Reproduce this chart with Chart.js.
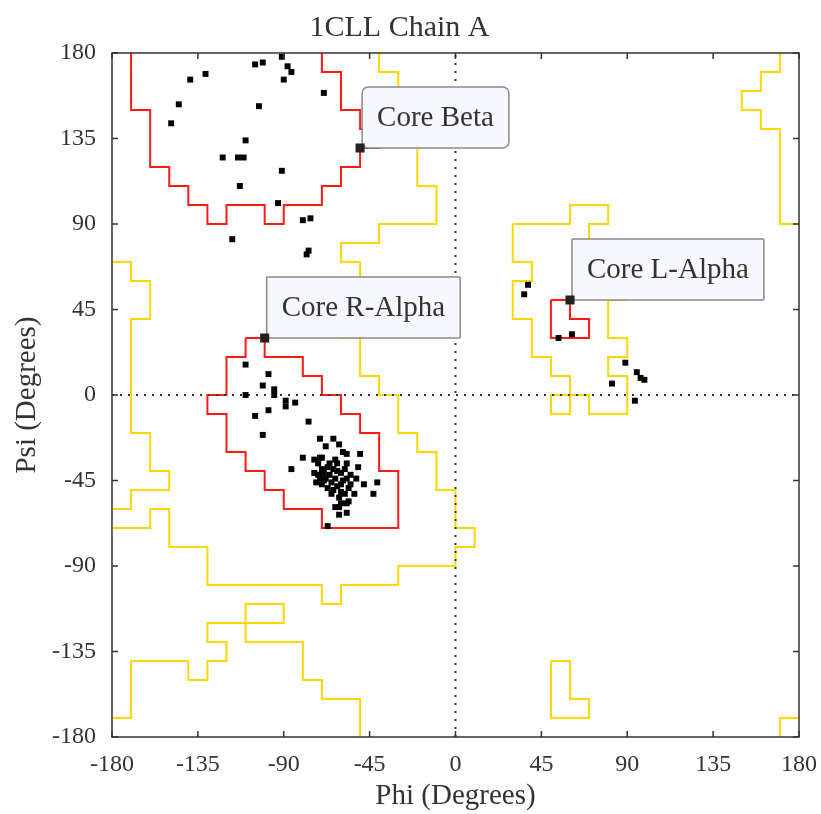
<!DOCTYPE html>
<html>
<head>
<meta charset="utf-8">
<title>1CLL Chain A</title>
<script src="https://cdn.jsdelivr.net/npm/chart.js@4.4.1/dist/chart.umd.min.js"></script>
<style>
  html, body { margin: 0; padding: 0; background: #fff; }
</style>
</head>
<body>
<canvas id="ramaChart" width="821" height="814"></canvas>
<script>
// axis ticks (degrees)
const angleTicks = [-180, -135, -90, -45, 0, 45, 90, 135, 180];

// residue backbone angles
const residuePhi = [
  -91, -105, -101, -88, -86, -90, -131, -139, -69, -145, -103, -149, -110, -122, -114, -111,
  -91, -113, -93, -80, -76, -117, -78, -77,
  -110, -98, -101, -110, -95, -95, -89, -89, -84, -98, -105, -77, -101, -71, -64,
  -61, -68, -59, -57, -50, -80, -70, -86, -51, -48, -41, -43, -57, -61, -61, -57, -67,
  -74, -71, -63, -72, -66, -62, -70, -64, -58, -74, -69, -60, -55, -71, -63, -57, -52,
  -73, -65, -70, -60, -67, -56, -65, -58, -53, -61, -56, -63, -60,
  -68, -66, -62, -59, -64, -72, -67, -62, -55, -60, -69, -57,
  38, 36, 54, 61, 89, 95, 97, 99, 82, 94
];
const residuePsi = [
  178, 174, 175, 173, 170, 166, 169, 166, 159, 153, 152, 143, 134, 125, 125, 125,
  118, 110, 101, 92, 93, 82, 74, 76,
  16, 11, 5, 0, 3, 0, -3, -6, -4, -8, -11, -14, -21, -23, -23,
  -26, -27, -30, -31, -31, -33, -33, -39, -38, -47, -46, -52, -57, -59, -63, -62, -69,
  -34, -33, -34, -36, -36, -36, -39, -39, -39, -41, -41, -41, -42, -44, -44, -44, -44,
  -46, -46, -47, -47, -49, -49, -52, -52, -52, -54, -56, -59, -57,
  -44, -42, -48, -45, -50, -42, -38, -40, -47, -51, -45, -36,
  58, 53, 30, 32, 17, 12, 9, 8, 6, -3
];

// labelled core residues
const coreNames = ['Core Beta', 'Core R-Alpha', 'Core L-Alpha'];
const corePhi = [-50, -100, 60];
const corePsi = [130, 30, 50];

// core region outlines [phi, psi]
const coreBeta = [[-170,180],[-170,150],[-160,150],[-160,120],[-150,120],[-150,110],[-140,110],[-140,100],
  [-130,100],[-130,90],[-120,90],[-120,100],[-100,100],[-100,90],[-90,90],[-90,100],[-70,100],[-70,110],
  [-60,110],[-60,120],[-50,120],[-50,130],[-40,130],[-40,140],[-50,140],[-50,150],[-60,150],[-60,170],
  [-70,170],[-70,180]];
const coreAlphaR = [[-110,30],[-100,30],[-100,20],[-80,20],[-80,10],[-70,10],[-70,0],[-60,0],[-60,-10],
  [-50,-10],[-50,-20],[-40,-20],[-40,-40],[-30,-40],[-30,-70],[-70,-70],[-70,-60],[-90,-60],[-90,-50],
  [-100,-50],[-100,-40],[-110,-40],[-110,-30],[-120,-30],[-120,-10],[-130,-10],[-130,0],[-120,0],
  [-120,20],[-110,20],[-110,30]];
const coreAlphaL = [[50,50],[60,50],[60,40],[70,40],[70,30],[50,30],[50,50]];

// allowed region outlines [phi, psi]
const allowedMain = [[-40,180],[-40,170],[-30,170],[-30,150],[-20,150],[-20,110],[-10,110],[-10,90],
  [-40,90],[-40,80],[-60,80],[-60,70],[-50,70],[-50,50],[-60,50],[-60,30],[-50,30],[-50,10],[-40,10],
  [-40,0],[-30,0],[-30,-20],[-20,-20],[-20,-30],[-10,-30],[-10,-50],[0,-50],[0,-70],[10,-70],[10,-80],
  [0,-80],[0,-90],[-30,-90],[-30,-100],[-60,-100],[-60,-110],[-70,-110],[-70,-100],[-130,-100],
  [-130,-80],[-150,-80],[-150,-60],[-160,-60],[-160,-70],[-180,-70]];
const allowedLeft = [[-180,70],[-170,70],[-170,60],[-160,60],[-160,40],[-170,40],[-170,-20],[-160,-20],
  [-160,-40],[-150,-40],[-150,-50],[-170,-50],[-170,-60],[-180,-60]];
const allowedBottom = [[-180,-170],[-170,-170],[-170,-140],[-140,-140],[-140,-150],[-130,-150],
  [-130,-140],[-120,-140],[-120,-130],[-130,-130],[-130,-120],[-90,-120],[-90,-110],[-110,-110],
  [-110,-130],[-80,-130],[-80,-150],[-70,-150],[-70,-160],[-50,-160],[-50,-180]];
const allowedLeftHand = [[30,90],[60,90],[60,100],[80,100],[80,90],[70,90],[70,70],[90,70],[90,50],
  [80,50],[80,30],[90,30],[90,20],[80,20],[80,10],[90,10],[90,-10],[70,-10],[70,0],[50,0],[50,-10],
  [60,-10],[60,10],[50,10],[50,20],[40,20],[40,40],[30,40],[30,60],[40,60],[40,70],[30,70],[30,90]];
const allowedRight = [[170,180],[170,170],[160,170],[160,160],[150,160],[150,150],[160,150],[160,140],
  [170,140],[170,90],[180,90]];
const allowedFoot = [[50,-140],[60,-140],[60,-160],[70,-160],[70,-170],[50,-170],[50,-140]];
const allowedCorner = [[170,-180],[170,-170],[180,-170]];

const toXY = pts => pts.map(([x, y]) => ({ x, y }));
const serif = '"Liberation Serif", "DejaVu Serif", serif';
const textColor = '#333';

const outline = (pts, color) => ({
  data: toXY(pts), showLine: true, borderColor: color, borderWidth: 2,
  pointRadius: 0, pointHoverRadius: 0, fill: false, tension: 0
});

const zeroLine = pts => ({
  data: toXY(pts), showLine: true, borderColor: '#333', borderWidth: 2,
  borderDash: [2, 6], pointRadius: 0, fill: false
});

// frame with inward ticks on all four sides
const framePlugin = {
  id: 'frame',
  afterDatasetsDraw(chart) {
    const { ctx, chartArea: a, scales: { x, y } } = chart;
    ctx.save();
    ctx.strokeStyle = '#333';
    ctx.lineWidth = 1.5;
    ctx.strokeRect(a.left, a.top, a.right - a.left, a.bottom - a.top);
    ctx.beginPath();
    angleTicks.forEach(v => {
      const px = x.getPixelForValue(v);
      const py = y.getPixelForValue(v);
      ctx.moveTo(px, a.bottom); ctx.lineTo(px, a.bottom - 6);
      ctx.moveTo(px, a.top); ctx.lineTo(px, a.top + 6);
      ctx.moveTo(a.left, py); ctx.lineTo(a.left + 6, py);
      ctx.moveTo(a.right, py); ctx.lineTo(a.right - 6, py);
    });
    ctx.stroke();
    ctx.restore();
  }
};

// callout boxes sitting up and to the right of each core residue
const calloutPlugin = {
  id: 'callouts',
  beforeDatasetDraw(chart, args) {
    if (args.index !== 0) return;
    const { ctx, scales: { x, y } } = chart;
    ctx.save();
    ctx.font = '29px ' + serif;
    ctx.textAlign = 'center';
    ctx.textBaseline = 'middle';
    coreNames.forEach((name, i) => {
      const px = x.getPixelForValue(corePhi[i]) + 2;
      const py = y.getPixelForValue(corePsi[i]);
      const w = ctx.measureText(name).width + 30;
      const h = 61;
      ctx.beginPath();
      ctx.roundRect(px, py - h, w, h, i === 0 ? 6 : 1);
      ctx.fillStyle = '#f8f8ff';
      ctx.fill();
      ctx.lineWidth = 1.5;
      ctx.strokeStyle = '#8a8a8a';
      ctx.stroke();
      ctx.fillStyle = textColor;
      ctx.fillText(name, px + w / 2, py - h / 2 + 1);
    });
    ctx.restore();
  }
};

const axisFont = { family: serif, size: 24 };
const titleFont = { family: serif, size: 29 };

new Chart(document.getElementById('ramaChart'), {
  type: 'scatter',
  data: {
    datasets: [
      {
        data: corePhi.map((v, i) => ({ x: v, y: corePsi[i] })),
        pointStyle: 'rect', pointRadius: 6.4, pointBorderWidth: 0,
        backgroundColor: '#222'
      },
      {
        data: residuePhi.map((v, i) => ({ x: v, y: residuePsi[i] })),
        pointStyle: 'rect', pointRadius: 4.2, pointBorderWidth: 0,
        backgroundColor: '#000'
      },
      zeroLine([[0, -180], [0, 180]]),
      zeroLine([[-180, 0], [180, 0]]),
      outline(coreBeta, '#ff1a1a'),
      outline(coreAlphaR, '#ff1a1a'),
      outline(coreAlphaL, '#ff1a1a'),
      outline(allowedMain, '#ffd700'),
      outline(allowedLeft, '#ffd700'),
      outline(allowedBottom, '#ffd700'),
      outline(allowedLeftHand, '#ffd700'),
      outline(allowedRight, '#ffd700'),
      outline(allowedFoot, '#ffd700'),
      outline(allowedCorner, '#ffd700')
    ]
  },
  options: {
    responsive: false,
    animation: false,
    devicePixelRatio: 1,
    layout: { padding: { top: 0, right: 22, bottom: 0, left: 0 } },
    plugins: {
      legend: { display: false },
      tooltip: { enabled: false },
      title: {
        display: true,
        text: '1CLL Chain A',
        font: { family: serif, size: 30, weight: 'normal' },
        color: textColor,
        padding: { top: 10, bottom: 7 }
      }
    },
    scales: {
      x: {
        type: 'linear', min: -180, max: 180,
        afterBuildTicks: s => { s.ticks = angleTicks.map(v => ({ value: v })); },
        ticks: { font: axisFont, color: textColor, padding: 13, maxRotation: 0, autoSkip: false },
        grid: { display: false, drawTicks: false },
        border: { display: false },
        title: { display: true, text: 'Phi (Degrees)', font: titleFont, color: textColor, padding: 0 },
        afterFit: s => { s.height = 77; s.paddingLeft = 0; s.paddingRight = 0; }
      },
      y: {
        type: 'linear', min: -180, max: 180,
        afterBuildTicks: s => { s.ticks = angleTicks.map(v => ({ value: v })); },
        ticks: { font: axisFont, color: textColor, padding: 16, autoSkip: false },
        grid: { display: false, drawTicks: false },
        border: { display: false },
        title: { display: true, text: 'Psi (Degrees)', font: titleFont, color: textColor, padding: { top: 10, bottom: 0 } },
        afterFit: s => { s.width = 112; s.paddingTop = 0; s.paddingBottom = 0; }
      }
    }
  },
  plugins: [framePlugin, calloutPlugin]
});
</script>
</body>
</html>
